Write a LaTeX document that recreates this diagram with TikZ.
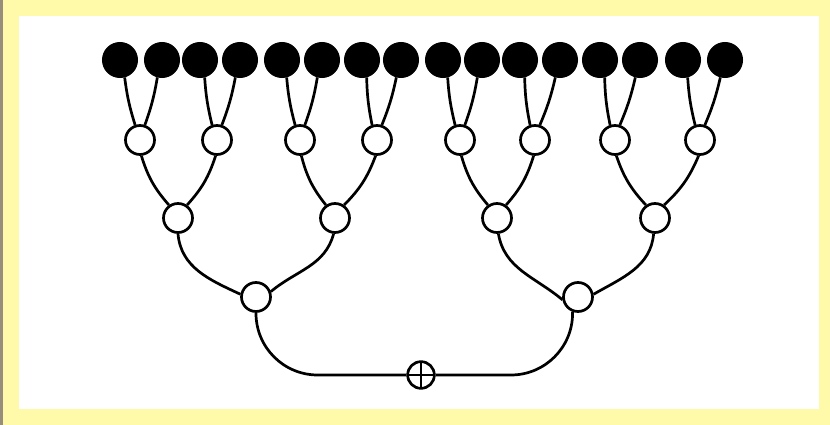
\documentclass[tikz,border=0pt]{standalone}
\usetikzlibrary{positioning}

\definecolor{frameyellow}{RGB}{255,250,170}
\definecolor{edgegray}{RGB}{150,142,122}

\begin{document}
\begin{tikzpicture}[
  x=0.03cm, y=-0.03cm, line width=2.3pt,
  inp/.style={circle, draw=black, fill=black, minimum size=1cm, inner sep=0pt},
  gate/.style={circle, draw=black, fill=white, minimum size=0.87cm, inner sep=0pt},
  adder/.style={circle, draw=black, fill=white, minimum size=0.8cm, inner sep=0pt,
                path picture={\draw[line width=1.5pt]
                  (path picture bounding box.north) -- (path picture bounding box.south)
                  (path picture bounding box.west) -- (path picture bounding box.east);}}
]

% frame
\fill[edgegray] (0,0) rectangle (830,425);
\fill[frameyellow] (3,0) rectangle (830,425);
\fill[white] (19,16) rectangle (819,409);
\useasboundingbox (0,0) rectangle (830,425);

% inputs
\node[inp] (in1) at (120,60) {};   \node[inp] (in2) at (162,60) {};
\node[inp] (in3) at (200,60) {};   \node[inp] (in4) at (240,60) {};
\node[inp] (in5) at (282,60) {};   \node[inp] (in6) at (322,60) {};
\node[inp] (in7) at (362,60) {};   \node[inp] (in8) at (401,60) {};
\node[inp] (in9) at (443,60) {};   \node[inp] (in10) at (482,60) {};
\node[inp] (in11) at (520,60) {};  \node[inp] (in12) at (560,60) {};
\node[inp] (in13) at (600,60) {};  \node[inp] (in14) at (640,60) {};
\node[inp] (in15) at (683,60) {};  \node[inp] (in16) at (725,60) {};

% first stage
\node[gate] (a1) at (140,140) {};  \node[gate] (a2) at (217,140) {};
\node[gate] (a3) at (300,140) {};  \node[gate] (a4) at (377,140) {};
\node[gate] (a5) at (460,140) {};  \node[gate] (a6) at (535,140) {};
\node[gate] (a7) at (615,140) {};  \node[gate] (a8) at (700,140) {};

% second stage
\node[gate] (b1) at (178,218) {};  \node[gate] (b2) at (335,218) {};
\node[gate] (b3) at (497,218) {};  \node[gate] (b4) at (655,218) {};

% third stage
\node[gate] (c1) at (256,297) {};  \node[gate] (c2) at (578,297) {};

% output
\node[adder] (out) at (421,375) {};

\draw (in1.-75) to[bend right=5] (a1.108);   \draw (in2.-105) to[bend left=5] (a1.72);
\draw (in3.-75) to[bend right=5] (a2.108);   \draw (in4.-105) to[bend left=5] (a2.72);
\draw (in5.-75) to[bend right=5] (a3.108);   \draw (in6.-105) to[bend left=5] (a3.72);
\draw (in7.-75) to[bend right=5] (a4.108);   \draw (in8.-105) to[bend left=5] (a4.72);
\draw (in9.-75) to[bend right=5] (a5.108);   \draw (in10.-105) to[bend left=5] (a5.72);
\draw (in11.-75) to[bend right=5] (a6.108);  \draw (in12.-105) to[bend left=5] (a6.72);
\draw (in13.-75) to[bend right=5] (a7.108);  \draw (in14.-105) to[bend left=5] (a7.72);
\draw (in15.-75) to[bend right=5] (a8.108);  \draw (in16.-105) to[bend left=5] (a8.72);

\draw (a1.-85) to[bend right=12] (b1.125);
\draw (a2.-95) to[bend left=12] (b1.55);
\draw (a3.-85) to[bend right=12] (b2.125);
\draw (a4.-95) to[bend left=12] (b2.55);
\draw (a5.-85) to[bend right=12] (b3.125);
\draw (a6.-95) to[bend left=12] (b3.55);
\draw (a7.-85) to[bend right=12] (b4.125);
\draw (a8.-95) to[bend left=12] (b4.55);

\draw (b1.south) to[out=-85,in=155] (c1.170);
\draw (b2.-95) to[out=-105,in=40] (c1.20);
\draw (b3.-85) to[out=-80,in=140] (c2.190);
\draw (b4.-95) to[out=-95,in=30] (c2.10);

\draw[rounded corners=1.85cm] (c1.south) |- (out.west);
\draw[rounded corners=1.85cm] (c2.-110) |- (out.east);

\end{tikzpicture}
\end{document}
